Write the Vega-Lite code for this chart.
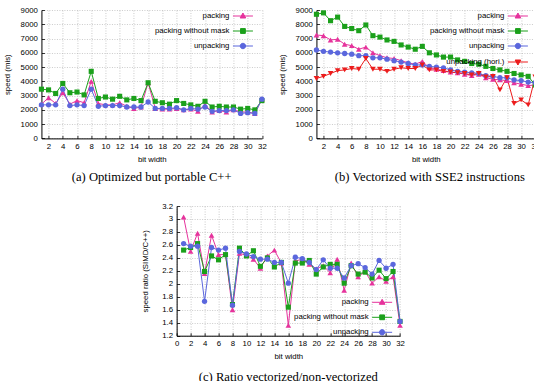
{
  "$schema": "https://vega.github.io/schema/vega-lite/v6.json",
  "background": "white",
  "padding": {"left": 3, "top": 5, "right": 0, "bottom": 0},
  "config": {
    "view": {"stroke": null},
    "axis": {
      "domainColor": "black", "domainWidth": 1,
      "tickColor": "black", "tickSize": -3, "tickWidth": 0.8,
      "gridColor": "#b4b4b4", "gridDash": [1, 1.5], "gridWidth": 0.7,
      "labelFont": "Liberation Sans", "labelFontSize": 7.8, "labelColor": "black",
      "labelFlush": false, "labelOverlap": false,
      "titleFont": "Liberation Sans", "titleFontSize": 7.8, "titleFontWeight": "normal", "titleColor": "black"
    },
    "axisX": {"labelPadding": 7, "titlePadding": 5},
    "axisY": {"labelPadding": 7, "titlePadding": 9},
    "legend": {
      "labelFont": "Liberation Sans", "labelFontSize": 7.8, "labelColor": "black",
      "labelLimit": 300
    },
    "title": {"font": "Liberation Serif", "fontSize": 12.6, "fontWeight": "normal", "color": "black"}
  },
  "resolve": {
    "scale": {"color": "independent", "fill": "independent", "stroke": "independent", "shape": "independent"},
    "legend": {"color": "independent", "fill": "independent", "stroke": "independent", "shape": "independent"}
  },
  "datasets": {
    "cpp": [
      {"bits":1,"series":"packing","speed":2400},{"bits":2,"series":"packing","speed":2850},{"bits":3,"series":"packing","speed":2450},{"bits":4,"series":"packing","speed":3200},
      {"bits":5,"series":"packing","speed":2400},{"bits":6,"series":"packing","speed":2650},{"bits":7,"series":"packing","speed":2500},{"bits":8,"series":"packing","speed":4000},
      {"bits":9,"series":"packing","speed":2450},{"bits":10,"series":"packing","speed":2350},{"bits":11,"series":"packing","speed":2350},{"bits":12,"series":"packing","speed":2500},
      {"bits":13,"series":"packing","speed":2250},{"bits":14,"series":"packing","speed":2100},{"bits":15,"series":"packing","speed":2200},{"bits":16,"series":"packing","speed":3900},
      {"bits":17,"series":"packing","speed":2100},{"bits":18,"series":"packing","speed":2050},{"bits":19,"series":"packing","speed":2050},{"bits":20,"series":"packing","speed":2100},
      {"bits":21,"series":"packing","speed":2000},{"bits":22,"series":"packing","speed":2050},{"bits":23,"series":"packing","speed":1900},{"bits":24,"series":"packing","speed":2350},
      {"bits":25,"series":"packing","speed":1850},{"bits":26,"series":"packing","speed":1950},{"bits":27,"series":"packing","speed":1850},{"bits":28,"series":"packing","speed":2000},
      {"bits":29,"series":"packing","speed":1850},{"bits":30,"series":"packing","speed":1850},{"bits":31,"series":"packing","speed":1750},{"bits":32,"series":"packing","speed":2750},
      {"bits":1,"series":"packing without mask","speed":3450},{"bits":2,"series":"packing without mask","speed":3400},{"bits":3,"series":"packing without mask","speed":3150},{"bits":4,"series":"packing without mask","speed":3850},
      {"bits":5,"series":"packing without mask","speed":3200},{"bits":6,"series":"packing without mask","speed":3250},{"bits":7,"series":"packing without mask","speed":3050},{"bits":8,"series":"packing without mask","speed":4700},
      {"bits":9,"series":"packing without mask","speed":2800},{"bits":10,"series":"packing without mask","speed":2900},{"bits":11,"series":"packing without mask","speed":2750},{"bits":12,"series":"packing without mask","speed":2950},
      {"bits":13,"series":"packing without mask","speed":2700},{"bits":14,"series":"packing without mask","speed":2800},{"bits":15,"series":"packing without mask","speed":2650},{"bits":16,"series":"packing without mask","speed":3900},
      {"bits":17,"series":"packing without mask","speed":2600},{"bits":18,"series":"packing without mask","speed":2500},{"bits":19,"series":"packing without mask","speed":2400},{"bits":20,"series":"packing without mask","speed":2650},
      {"bits":21,"series":"packing without mask","speed":2450},{"bits":22,"series":"packing without mask","speed":2350},{"bits":23,"series":"packing without mask","speed":2250},{"bits":24,"series":"packing without mask","speed":2600},
      {"bits":25,"series":"packing without mask","speed":2200},{"bits":26,"series":"packing without mask","speed":2250},{"bits":27,"series":"packing without mask","speed":2200},{"bits":28,"series":"packing without mask","speed":2200},
      {"bits":29,"series":"packing without mask","speed":2050},{"bits":30,"series":"packing without mask","speed":2100},{"bits":31,"series":"packing without mask","speed":2000},{"bits":32,"series":"packing without mask","speed":2650},
      {"bits":1,"series":"unpacking","speed":2350},{"bits":2,"series":"unpacking","speed":2350},{"bits":3,"series":"unpacking","speed":2350},{"bits":4,"series":"unpacking","speed":3450},
      {"bits":5,"series":"unpacking","speed":2300},{"bits":6,"series":"unpacking","speed":2350},{"bits":7,"series":"unpacking","speed":2300},{"bits":8,"series":"unpacking","speed":3450},
      {"bits":9,"series":"unpacking","speed":2250},{"bits":10,"series":"unpacking","speed":2300},{"bits":11,"series":"unpacking","speed":2300},{"bits":12,"series":"unpacking","speed":2300},
      {"bits":13,"series":"unpacking","speed":2200},{"bits":14,"series":"unpacking","speed":2200},{"bits":15,"series":"unpacking","speed":2200},{"bits":16,"series":"unpacking","speed":2550},
      {"bits":17,"series":"unpacking","speed":2100},{"bits":18,"series":"unpacking","speed":2100},{"bits":19,"series":"unpacking","speed":2100},{"bits":20,"series":"unpacking","speed":2150},
      {"bits":21,"series":"unpacking","speed":2000},{"bits":22,"series":"unpacking","speed":2100},{"bits":23,"series":"unpacking","speed":2050},{"bits":24,"series":"unpacking","speed":2200},
      {"bits":25,"series":"unpacking","speed":1900},{"bits":26,"series":"unpacking","speed":1950},{"bits":27,"series":"unpacking","speed":1950},{"bits":28,"series":"unpacking","speed":2000},
      {"bits":29,"series":"unpacking","speed":1750},{"bits":30,"series":"unpacking","speed":1800},{"bits":31,"series":"unpacking","speed":1750},{"bits":32,"series":"unpacking","speed":2750}
    ],
    "sse2": [
      {"bits":1,"series":"packing","speed":7250},{"bits":2,"series":"packing","speed":7200},{"bits":3,"series":"packing","speed":6900},{"bits":4,"series":"packing","speed":6950},
      {"bits":5,"series":"packing","speed":6600},{"bits":6,"series":"packing","speed":6500},{"bits":7,"series":"packing","speed":6250},{"bits":8,"series":"packing","speed":6400},
      {"bits":9,"series":"packing","speed":6000},{"bits":10,"series":"packing","speed":5800},{"bits":11,"series":"packing","speed":5650},{"bits":12,"series":"packing","speed":5600},
      {"bits":13,"series":"packing","speed":5450},{"bits":14,"series":"packing","speed":5300},{"bits":15,"series":"packing","speed":5200},{"bits":16,"series":"packing","speed":5400},
      {"bits":17,"series":"packing","speed":4950},{"bits":18,"series":"packing","speed":4850},{"bits":19,"series":"packing","speed":4750},{"bits":20,"series":"packing","speed":4650},
      {"bits":21,"series":"packing","speed":4600},{"bits":22,"series":"packing","speed":4500},{"bits":23,"series":"packing","speed":4400},{"bits":24,"series":"packing","speed":4500},
      {"bits":25,"series":"packing","speed":4250},{"bits":26,"series":"packing","speed":4150},{"bits":27,"series":"packing","speed":4100},{"bits":28,"series":"packing","speed":4050},
      {"bits":29,"series":"packing","speed":3900},{"bits":30,"series":"packing","speed":3800},{"bits":31,"series":"packing","speed":3700},{"bits":32,"series":"packing","speed":3750},
      {"bits":1,"series":"packing without mask","speed":8700},{"bits":2,"series":"packing without mask","speed":8800},{"bits":3,"series":"packing without mask","speed":8250},{"bits":4,"series":"packing without mask","speed":8500},
      {"bits":5,"series":"packing without mask","speed":7850},{"bits":6,"series":"packing without mask","speed":7700},{"bits":7,"series":"packing without mask","speed":7550},{"bits":8,"series":"packing without mask","speed":7950},
      {"bits":9,"series":"packing without mask","speed":7200},{"bits":10,"series":"packing without mask","speed":7100},{"bits":11,"series":"packing without mask","speed":6900},{"bits":12,"series":"packing without mask","speed":6800},
      {"bits":13,"series":"packing without mask","speed":6550},{"bits":14,"series":"packing without mask","speed":6400},{"bits":15,"series":"packing without mask","speed":6250},{"bits":16,"series":"packing without mask","speed":6450},
      {"bits":17,"series":"packing without mask","speed":6000},{"bits":18,"series":"packing without mask","speed":5850},{"bits":19,"series":"packing without mask","speed":5700},{"bits":20,"series":"packing without mask","speed":5700},
      {"bits":21,"series":"packing without mask","speed":5500},{"bits":22,"series":"packing without mask","speed":5400},{"bits":23,"series":"packing without mask","speed":5250},{"bits":24,"series":"packing without mask","speed":5200},
      {"bits":25,"series":"packing without mask","speed":5050},{"bits":26,"series":"packing without mask","speed":4900},{"bits":27,"series":"packing without mask","speed":4800},{"bits":28,"series":"packing without mask","speed":4700},
      {"bits":29,"series":"packing without mask","speed":4550},{"bits":30,"series":"packing without mask","speed":4450},{"bits":31,"series":"packing without mask","speed":4350},{"bits":32,"series":"packing without mask","speed":3750},
      {"bits":1,"series":"unpacking","speed":6200},{"bits":2,"series":"unpacking","speed":6100},{"bits":3,"series":"unpacking","speed":6050},{"bits":4,"series":"unpacking","speed":6000},
      {"bits":5,"series":"unpacking","speed":5950},{"bits":6,"series":"unpacking","speed":5900},{"bits":7,"series":"unpacking","speed":5800},{"bits":8,"series":"unpacking","speed":5800},
      {"bits":9,"series":"unpacking","speed":5650},{"bits":10,"series":"unpacking","speed":5650},{"bits":11,"series":"unpacking","speed":5550},{"bits":12,"series":"unpacking","speed":5450},
      {"bits":13,"series":"unpacking","speed":5350},{"bits":14,"series":"unpacking","speed":5250},{"bits":15,"series":"unpacking","speed":5150},{"bits":16,"series":"unpacking","speed":5150},
      {"bits":17,"series":"unpacking","speed":5050},{"bits":18,"series":"unpacking","speed":5000},{"bits":19,"series":"unpacking","speed":4950},{"bits":20,"series":"unpacking","speed":4800},
      {"bits":21,"series":"unpacking","speed":4700},{"bits":22,"series":"unpacking","speed":4650},{"bits":23,"series":"unpacking","speed":4600},{"bits":24,"series":"unpacking","speed":4550},
      {"bits":25,"series":"unpacking","speed":4400},{"bits":26,"series":"unpacking","speed":4350},{"bits":27,"series":"unpacking","speed":4250},{"bits":28,"series":"unpacking","speed":4250},
      {"bits":29,"series":"unpacking","speed":4100},{"bits":30,"series":"unpacking","speed":4050},{"bits":31,"series":"unpacking","speed":3950},{"bits":32,"series":"unpacking","speed":3900},
      {"bits":1,"series":"unpacking (hori.)","speed":4200},{"bits":2,"series":"unpacking (hori.)","speed":4350},{"bits":3,"series":"unpacking (hori.)","speed":4550},{"bits":4,"series":"unpacking (hori.)","speed":4750},
      {"bits":5,"series":"unpacking (hori.)","speed":4800},{"bits":6,"series":"unpacking (hori.)","speed":4900},{"bits":7,"series":"unpacking (hori.)","speed":4850},{"bits":8,"series":"unpacking (hori.)","speed":5600},
      {"bits":9,"series":"unpacking (hori.)","speed":4850},{"bits":10,"series":"unpacking (hori.)","speed":4850},{"bits":11,"series":"unpacking (hori.)","speed":4700},{"bits":12,"series":"unpacking (hori.)","speed":4850},
      {"bits":13,"series":"unpacking (hori.)","speed":4950},{"bits":14,"series":"unpacking (hori.)","speed":4900},{"bits":15,"series":"unpacking (hori.)","speed":4900},{"bits":16,"series":"unpacking (hori.)","speed":5150},
      {"bits":17,"series":"unpacking (hori.)","speed":4800},{"bits":18,"series":"unpacking (hori.)","speed":4800},{"bits":19,"series":"unpacking (hori.)","speed":4700},{"bits":20,"series":"unpacking (hori.)","speed":4650},
      {"bits":21,"series":"unpacking (hori.)","speed":4600},{"bits":22,"series":"unpacking (hori.)","speed":4550},{"bits":23,"series":"unpacking (hori.)","speed":4450},{"bits":24,"series":"unpacking (hori.)","speed":4550},
      {"bits":25,"series":"unpacking (hori.)","speed":4300},{"bits":26,"series":"unpacking (hori.)","speed":4350},{"bits":27,"series":"unpacking (hori.)","speed":3400},{"bits":28,"series":"unpacking (hori.)","speed":4250},
      {"bits":29,"series":"unpacking (hori.)","speed":2450},{"bits":30,"series":"unpacking (hori.)","speed":2700},{"bits":31,"series":"unpacking (hori.)","speed":2350},{"bits":32,"series":"unpacking (hori.)","speed":4300}
    ],
    "ratio": [
      {"bits":1,"series":"packing","ratio":3.03},{"bits":2,"series":"packing","ratio":2.50},{"bits":3,"series":"packing","ratio":2.78},{"bits":4,"series":"packing","ratio":2.16},
      {"bits":5,"series":"packing","ratio":2.75},{"bits":6,"series":"packing","ratio":2.45},{"bits":7,"series":"packing","ratio":2.45},{"bits":8,"series":"packing","ratio":1.60},
      {"bits":9,"series":"packing","ratio":2.47},{"bits":10,"series":"packing","ratio":2.44},{"bits":11,"series":"packing","ratio":2.38},{"bits":12,"series":"packing","ratio":2.24},
      {"bits":13,"series":"packing","ratio":2.43},{"bits":14,"series":"packing","ratio":2.52},{"bits":15,"series":"packing","ratio":2.32},{"bits":16,"series":"packing","ratio":1.36},
      {"bits":17,"series":"packing","ratio":2.35},{"bits":18,"series":"packing","ratio":2.38},{"bits":19,"series":"packing","ratio":2.30},{"bits":20,"series":"packing","ratio":2.23},
      {"bits":21,"series":"packing","ratio":2.28},{"bits":22,"series":"packing","ratio":2.17},{"bits":23,"series":"packing","ratio":2.38},{"bits":24,"series":"packing","ratio":1.90},
      {"bits":25,"series":"packing","ratio":2.32},{"bits":26,"series":"packing","ratio":2.11},{"bits":27,"series":"packing","ratio":2.19},{"bits":28,"series":"packing","ratio":2.01},
      {"bits":29,"series":"packing","ratio":2.11},{"bits":30,"series":"packing","ratio":2.04},{"bits":31,"series":"packing","ratio":2.11},{"bits":32,"series":"packing","ratio":1.36},
      {"bits":1,"series":"packing without mask","ratio":2.52},{"bits":2,"series":"packing without mask","ratio":2.56},{"bits":3,"series":"packing without mask","ratio":2.62},{"bits":4,"series":"packing without mask","ratio":2.19},
      {"bits":5,"series":"packing without mask","ratio":2.43},{"bits":6,"series":"packing without mask","ratio":2.37},{"bits":7,"series":"packing without mask","ratio":2.45},{"bits":8,"series":"packing without mask","ratio":1.68},
      {"bits":9,"series":"packing without mask","ratio":2.55},{"bits":10,"series":"packing without mask","ratio":2.43},{"bits":11,"series":"packing without mask","ratio":2.51},{"bits":12,"series":"packing without mask","ratio":2.27},
      {"bits":13,"series":"packing without mask","ratio":2.40},{"bits":14,"series":"packing without mask","ratio":2.26},{"bits":15,"series":"packing without mask","ratio":2.33},{"bits":16,"series":"packing without mask","ratio":1.64},
      {"bits":17,"series":"packing without mask","ratio":2.32},{"bits":18,"series":"packing without mask","ratio":2.32},{"bits":19,"series":"packing without mask","ratio":2.36},{"bits":20,"series":"packing without mask","ratio":2.15},
      {"bits":21,"series":"packing without mask","ratio":2.26},{"bits":22,"series":"packing without mask","ratio":2.30},{"bits":23,"series":"packing without mask","ratio":2.30},{"bits":24,"series":"packing without mask","ratio":2.01},
      {"bits":25,"series":"packing without mask","ratio":2.28},{"bits":26,"series":"packing without mask","ratio":2.15},{"bits":27,"series":"packing without mask","ratio":2.18},{"bits":28,"series":"packing without mask","ratio":2.09},
      {"bits":29,"series":"packing without mask","ratio":2.21},{"bits":30,"series":"packing without mask","ratio":2.08},{"bits":31,"series":"packing without mask","ratio":2.19},{"bits":32,"series":"packing without mask","ratio":1.42},
      {"bits":1,"series":"unpacking","ratio":2.62},{"bits":2,"series":"unpacking","ratio":2.58},{"bits":3,"series":"unpacking","ratio":2.58},{"bits":4,"series":"unpacking","ratio":1.73},
      {"bits":5,"series":"unpacking","ratio":2.56},{"bits":6,"series":"unpacking","ratio":2.52},{"bits":7,"series":"unpacking","ratio":2.55},{"bits":8,"series":"unpacking","ratio":1.67},
      {"bits":9,"series":"unpacking","ratio":2.50},{"bits":10,"series":"unpacking","ratio":2.46},{"bits":11,"series":"unpacking","ratio":2.42},{"bits":12,"series":"unpacking","ratio":2.38},
      {"bits":13,"series":"unpacking","ratio":2.38},{"bits":14,"series":"unpacking","ratio":2.33},{"bits":15,"series":"unpacking","ratio":2.33},{"bits":16,"series":"unpacking","ratio":2.01},
      {"bits":17,"series":"unpacking","ratio":2.41},{"bits":18,"series":"unpacking","ratio":2.39},{"bits":19,"series":"unpacking","ratio":2.33},{"bits":20,"series":"unpacking","ratio":2.22},
      {"bits":21,"series":"unpacking","ratio":2.37},{"bits":22,"series":"unpacking","ratio":2.24},{"bits":23,"series":"unpacking","ratio":2.24},{"bits":24,"series":"unpacking","ratio":2.09},
      {"bits":25,"series":"unpacking","ratio":2.28},{"bits":26,"series":"unpacking","ratio":2.31},{"bits":27,"series":"unpacking","ratio":2.25},{"bits":28,"series":"unpacking","ratio":2.15},
      {"bits":29,"series":"unpacking","ratio":2.36},{"bits":30,"series":"unpacking","ratio":2.24},{"bits":31,"series":"unpacking","ratio":2.30},{"bits":32,"series":"unpacking","ratio":1.42}
    ]
  },
  "center": true,
  "spacing": 18,
  "vconcat": [
    {
      "spacing": 11,
      "resolve": {
        "scale": {"color": "independent", "fill": "independent", "stroke": "independent", "shape": "independent"},
        "legend": {"color": "independent", "fill": "independent", "stroke": "independent", "shape": "independent"}
      },
      "hconcat": [
        {
          "width": 220.5, "height": 128.4,
          "data": {"name": "cpp"},
          "title": {"text": "(a) Optimized but portable C++", "orient": "bottom", "offset": 8},
          "encoding": {
            "x": {"field": "bits", "type": "quantitative", "scale": {"domain": [1, 32], "nice": false, "zero": false},
                  "axis": {"title": "bit width", "values": [2,4,6,8,10,12,14,16,18,20,22,24,26,28,30,32]}},
            "y": {"field": "speed", "type": "quantitative", "scale": {"domain": [0, 9000], "nice": false},
                  "axis": {"title": "speed (mis)", "format": "d", "values": [0,1000,2000,3000,4000,5000,6000,7000,8000,9000]}}
          },
          "layer": [
            {"mark": {"type": "line", "strokeWidth": 1},
             "encoding": {"color": {"field": "series", "type": "nominal", "legend": null,
               "scale": {"range": ["#e6339c", "#1ba01b", "#5b67dd"]}}}},
            {"transform": [{"filter": "datum.series === 'packing'"}],
             "mark": {"type": "point", "shape": "triangle-up", "filled": true, "opacity": 1, "size": 32, "color": "#e6339c"}},
            {"transform": [{"filter": "datum.series === 'packing without mask'"}],
             "mark": {"type": "point", "shape": "square", "filled": true, "opacity": 1, "size": 26, "color": "#1ba01b"}},
            {"transform": [{"filter": "datum.series === 'unpacking'"}],
             "mark": {"type": "point", "shape": "circle", "filled": true, "opacity": 1, "size": 28, "color": "#5b67dd"}},
            {"transform": [{"filter": "false"}],
             "mark": {"type": "point", "filled": true, "opacity": 1},
             "encoding": {
               "fill": {"field": "series", "type": "nominal",
                 "scale": {"domain": ["packing", "packing without mask", "unpacking"], "range": ["#e6339c", "#1ba01b", "#5b67dd"]},
                 "legend": {"title": null, "orient": "none", "legendX": 191, "legendY": -4.5, "direction": "vertical", "padding": 0, "symbolSize": 400, "symbolStrokeWidth": 1, "symbolOffset": 0, "labelAlign": "right", "labelOffset": -24, "rowPadding": 0}},
               "stroke": {"field": "series", "type": "nominal",
                 "scale": {"domain": ["packing", "packing without mask", "unpacking"], "range": ["#e6339c", "#1ba01b", "#5b67dd"]},
                 "legend": {"title": null, "orient": "none", "legendX": 191, "legendY": -4.5, "direction": "vertical", "padding": 0, "symbolSize": 400, "symbolStrokeWidth": 1, "symbolOffset": 0, "labelAlign": "right", "labelOffset": -24, "rowPadding": 0}},
               "shape": {"field": "series", "type": "nominal",
                 "scale": {"domain": ["packing", "packing without mask", "unpacking"],
                   "range": ["M-1,0H1M0,-0.3L0.28,0.2L-0.28,0.2Z", "M-1,0H1M-0.24,-0.24H0.24V0.24H-0.24Z", "M-1,0H1M-0.27,0A0.27,0.27,0,1,0,0.27,0A0.27,0.27,0,1,0,-0.27,0Z"]},
                 "legend": {"title": null, "orient": "none", "legendX": 191, "legendY": -4.5, "direction": "vertical", "padding": 0, "symbolSize": 400, "symbolStrokeWidth": 1, "symbolOffset": 0, "labelAlign": "right", "labelOffset": -24, "rowPadding": 0}}
             }}
          ]
        },
        {
          "width": 218.8, "height": 128.4,
          "data": {"name": "sse2"},
          "title": {"text": "(b) Vectorized with SSE2 instructions", "orient": "bottom", "offset": 8, "dx": 4},
          "encoding": {
            "x": {"field": "bits", "type": "quantitative", "scale": {"domain": [1, 32], "nice": false, "zero": false},
                  "axis": {"title": "bit width", "values": [2,4,6,8,10,12,14,16,18,20,22,24,26,28,30,32]}},
            "y": {"field": "speed", "type": "quantitative", "scale": {"domain": [0, 9000], "nice": false},
                  "axis": {"title": "speed (mis)", "format": "d", "values": [0,1000,2000,3000,4000,5000,6000,7000,8000,9000]}}
          },
          "layer": [
            {"mark": {"type": "line", "strokeWidth": 1},
             "encoding": {"color": {"field": "series", "type": "nominal", "legend": null,
               "scale": {"range": ["#e6339c", "#1ba01b", "#5b67dd", "#ec1c1c"]}}}},
            {"transform": [{"filter": "datum.series === 'packing'"}],
             "mark": {"type": "point", "shape": "triangle-up", "filled": true, "opacity": 1, "size": 32, "color": "#e6339c"}},
            {"transform": [{"filter": "datum.series === 'packing without mask'"}],
             "mark": {"type": "point", "shape": "square", "filled": true, "opacity": 1, "size": 26, "color": "#1ba01b"}},
            {"transform": [{"filter": "datum.series === 'unpacking'"}],
             "mark": {"type": "point", "shape": "circle", "filled": true, "opacity": 1, "size": 28, "color": "#5b67dd"}},
            {"transform": [{"filter": "datum.series === 'unpacking (hori.)'"}],
             "mark": {"type": "point", "shape": "triangle-down", "filled": true, "opacity": 1, "size": 32, "color": "#ec1c1c"}},
            {"transform": [{"filter": "false"}],
             "mark": {"type": "point", "filled": true, "opacity": 1},
             "encoding": {
               "fill": {"field": "series", "type": "nominal",
                 "scale": {"domain": ["packing", "packing without mask", "unpacking", "unpacking (hori.)"], "range": ["#e6339c", "#1ba01b", "#5b67dd", "#ec1c1c"]},
                 "legend": {"title": null, "orient": "none", "legendX": 191, "legendY": -4.5, "direction": "vertical", "padding": 0, "symbolSize": 400, "symbolStrokeWidth": 1, "symbolOffset": 0, "labelAlign": "right", "labelOffset": -24, "rowPadding": 0}},
               "stroke": {"field": "series", "type": "nominal",
                 "scale": {"domain": ["packing", "packing without mask", "unpacking", "unpacking (hori.)"], "range": ["#e6339c", "#1ba01b", "#5b67dd", "#ec1c1c"]},
                 "legend": {"title": null, "orient": "none", "legendX": 191, "legendY": -4.5, "direction": "vertical", "padding": 0, "symbolSize": 400, "symbolStrokeWidth": 1, "symbolOffset": 0, "labelAlign": "right", "labelOffset": -24, "rowPadding": 0}},
               "shape": {"field": "series", "type": "nominal",
                 "scale": {"domain": ["packing", "packing without mask", "unpacking", "unpacking (hori.)"],
                   "range": ["M-1,0H1M0,-0.3L0.28,0.2L-0.28,0.2Z", "M-1,0H1M-0.24,-0.24H0.24V0.24H-0.24Z", "M-1,0H1M-0.27,0A0.27,0.27,0,1,0,0.27,0A0.27,0.27,0,1,0,-0.27,0Z", "M-1,0H1M0,0.3L0.28,-0.2L-0.28,-0.2Z"]},
                 "legend": {"title": null, "orient": "none", "legendX": 191, "legendY": -4.5, "direction": "vertical", "padding": 0, "symbolSize": 400, "symbolStrokeWidth": 1, "symbolOffset": 0, "labelAlign": "right", "labelOffset": -24, "rowPadding": 0}}
             }}
          ]
        }
      ]
    },
    {
      "width": 223.4, "height": 129.7,
      "data": {"name": "ratio"},
      "title": {"text": "(c) Ratio vectorized/non-vectorized", "orient": "bottom", "offset": 11},
      "encoding": {
        "x": {"field": "bits", "type": "quantitative", "scale": {"domain": [0, 32], "nice": false, "zero": false},
              "axis": {"title": "bit width", "values": [0,2,4,6,8,10,12,14,16,18,20,22,24,26,28,30,32]}},
        "y": {"field": "ratio", "type": "quantitative", "scale": {"domain": [1.2, 3.2], "nice": false, "zero": false},
              "axis": {"title": "speed ratio (SIMD/C++)", "format": ".1~f", "titlePadding": 12, "values": [1.2,1.4,1.6,1.8,2,2.2,2.4,2.6,2.8,3,3.2]}}
      },
      "layer": [
        {"mark": {"type": "line", "strokeWidth": 1},
         "encoding": {"color": {"field": "series", "type": "nominal", "legend": null,
           "scale": {"range": ["#e6339c", "#1ba01b", "#5b67dd"]}}}},
        {"transform": [{"filter": "datum.series === 'packing'"}],
         "mark": {"type": "point", "shape": "triangle-up", "filled": true, "opacity": 1, "size": 32, "color": "#e6339c"}},
        {"transform": [{"filter": "datum.series === 'packing without mask'"}],
         "mark": {"type": "point", "shape": "square", "filled": true, "opacity": 1, "size": 26, "color": "#1ba01b"}},
        {"transform": [{"filter": "datum.series === 'unpacking'"}],
         "mark": {"type": "point", "shape": "circle", "filled": true, "opacity": 1, "size": 28, "color": "#5b67dd"}},
        {"transform": [{"filter": "false"}],
         "mark": {"type": "point", "filled": true, "opacity": 1},
         "encoding": {
           "fill": {"field": "series", "type": "nominal",
             "scale": {"domain": ["packing", "packing without mask", "unpacking"], "range": ["#e6339c", "#1ba01b", "#5b67dd"]},
             "legend": {"title": null, "orient": "none", "legendX": 195, "legendY": 85.8, "direction": "vertical", "padding": 0, "symbolSize": 400, "symbolStrokeWidth": 1, "symbolOffset": 0, "labelAlign": "right", "labelOffset": -24, "rowPadding": 0}},
           "stroke": {"field": "series", "type": "nominal",
             "scale": {"domain": ["packing", "packing without mask", "unpacking"], "range": ["#e6339c", "#1ba01b", "#5b67dd"]},
             "legend": {"title": null, "orient": "none", "legendX": 195, "legendY": 85.8, "direction": "vertical", "padding": 0, "symbolSize": 400, "symbolStrokeWidth": 1, "symbolOffset": 0, "labelAlign": "right", "labelOffset": -24, "rowPadding": 0}},
           "shape": {"field": "series", "type": "nominal",
             "scale": {"domain": ["packing", "packing without mask", "unpacking"],
               "range": ["M-1,0H1M0,-0.3L0.28,0.2L-0.28,0.2Z", "M-1,0H1M-0.24,-0.24H0.24V0.24H-0.24Z", "M-1,0H1M-0.27,0A0.27,0.27,0,1,0,0.27,0A0.27,0.27,0,1,0,-0.27,0Z"]},
             "legend": {"title": null, "orient": "none", "legendX": 195, "legendY": 85.8, "direction": "vertical", "padding": 0, "symbolSize": 400, "symbolStrokeWidth": 1, "symbolOffset": 0, "labelAlign": "right", "labelOffset": -24, "rowPadding": 0}}
         }}
      ]
    }
  ]
}
